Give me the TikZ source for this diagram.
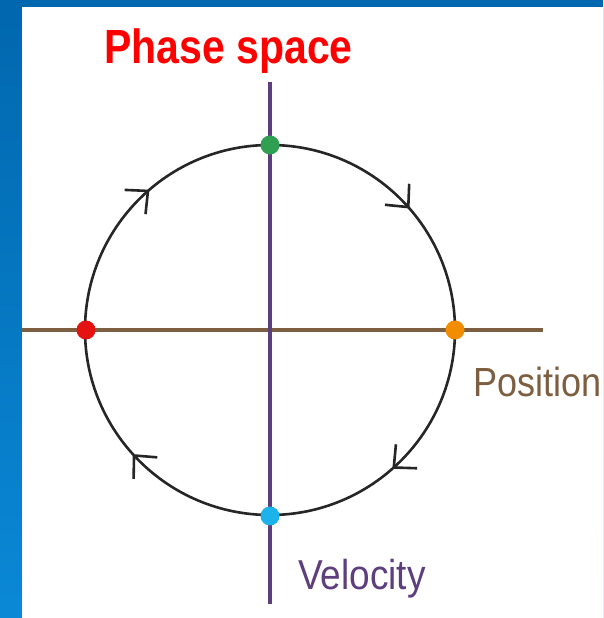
\documentclass[tikz,border=0pt]{standalone}
\usepackage{fontspec}
\setmainfont{Liberation Sans}
\usetikzlibrary{arrows.meta,decorations.markings}
\definecolor{bgtop}{HTML}{0167AE}
\definecolor{bgbot}{HTML}{0A88D6}
\definecolor{posbrown}{HTML}{7D5E40}
\definecolor{velpurple}{HTML}{5E3F7E}
\definecolor{dotgreen}{HTML}{2FA052}
\definecolor{dotorange}{HTML}{F28C00}
\definecolor{dotcyan}{HTML}{1CB2EA}
\definecolor{dotred}{HTML}{E51212}
\tikzset{
  orbit/.style={draw=black!85, line width=2.6pt},
  axisline/.style={line width=3.2pt},
  dot/.style={circle, inner sep=0pt, minimum size=19pt},
  barb/.style={line width=2.6pt, black!85},
}
\begin{document}
\begin{tikzpicture}[x=1pt,y=1pt]
\useasboundingbox (0,0) rectangle (603,618);
\shade[top color=bgtop, bottom color=bgbot] (0,0) rectangle (603,618);
\fill[white] (22,0) rectangle (603,611);
\coordinate (c) at (270,288);
% axes
\coordinate (hl) at (22,288);
\coordinate (hr) at (543,288);
\coordinate (vt) at (270,536);
\coordinate (vb) at (270,14);
\draw[axisline, posbrown] (hl) -- (hr);
\draw[axisline, velpurple] (vt) -- (vb);
% orbit
\draw[orbit,
  postaction={decorate, decoration={markings,
    mark=at position 0.135 with {\arrow[barb]{Straight Barb[length=17pt,width=32pt]}},
    mark=at position 0.383 with {\arrow[barb]{Straight Barb[length=17pt,width=32pt]}},
    mark=at position 0.637 with {\arrow[barb]{Straight Barb[length=17pt,width=32pt]}},
    mark=at position 0.886 with {\arrow[barb]{Straight Barb[length=17pt,width=32pt]}}}}]
  (455,288) arc[start angle=0, end angle=-360, radius=185];
% dots
\node[dot, fill=dotgreen] (top) at (270,473) {};
\node[dot, fill=dotorange] (right) at (455,288) {};
\node[dot, fill=dotcyan] (bottom) at (270,102) {};
\node[dot, fill=dotred] (left) at (86,288) {};
% labels
\node[anchor=base, text=red, font=\fontsize{41}{41}\selectfont\bfseries, inner sep=0pt] (title) at (228.5,554) {\scalebox{1}[1.17]{Phase space}};
\node[anchor=base west, text=posbrown, font=\fontsize{36}{36}\selectfont, inner sep=0pt] (pos) at (473,221) {\scalebox{1}[1.13]{Position}};
\node[anchor=base west, text=velpurple, font=\fontsize{37}{37}\selectfont, inner sep=0pt] (vel) at (298,28) {\scalebox{1}[1.13]{Velocity}};
\end{tikzpicture}
\end{document}
